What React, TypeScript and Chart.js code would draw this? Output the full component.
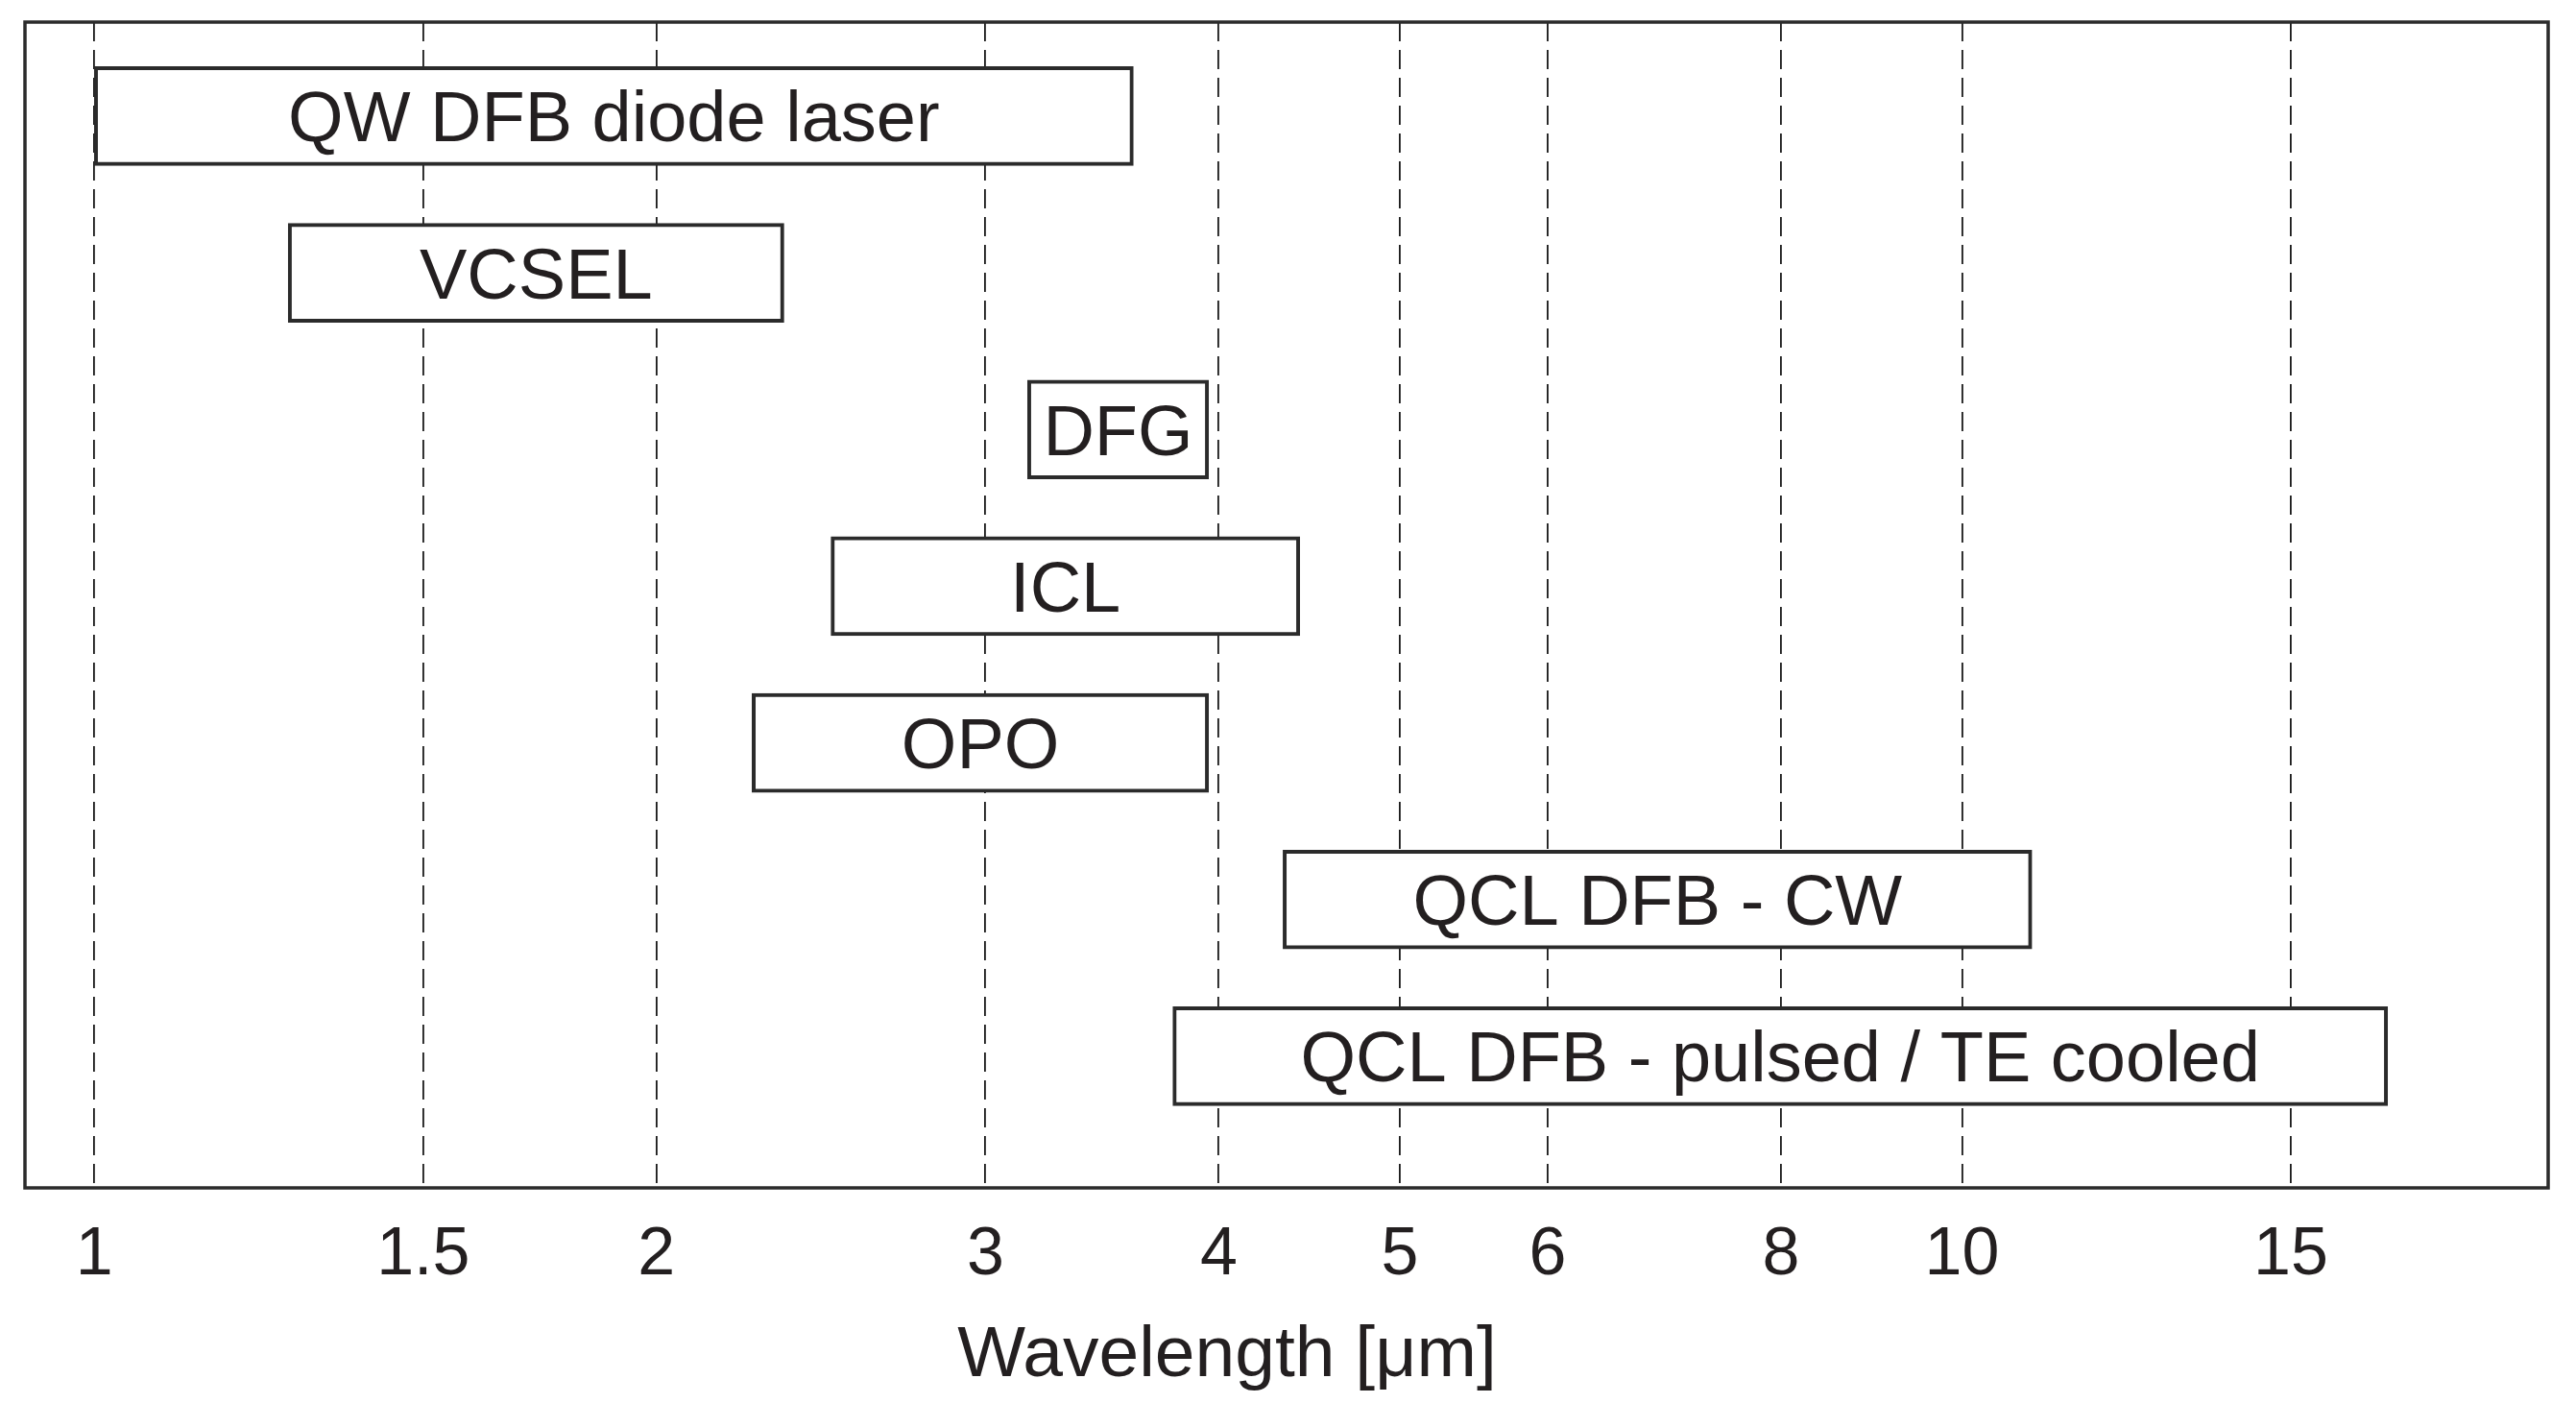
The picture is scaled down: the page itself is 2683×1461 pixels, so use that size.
import React, { useEffect, useRef } from 'react';
import { Chart, registerables } from 'chart.js';

Chart.register(...registerables);

// ---- data ----
const LASER_TYPES = [
  'QW DFB diode laser',
  'VCSEL',
  'DFG',
  'ICL',
  'OPO',
  'QCL DFB - CW',
  'QCL DFB - pulsed / TE cooled',
];
const RANGE_START_UM = [1.0, 1.27, 3.16, 2.48, 2.25, 4.33, 3.78];
const RANGE_END_UM = [3.6, 2.34, 3.95, 4.42, 3.95, 10.9, 16.9];
const X_TICKS_UM = [1, 1.5, 2, 3, 4, 5, 6, 8, 10, 15];
const X_TITLE = 'Wavelength [\u03bcm]';

// ---- styles ----
const FONT = '"Liberation Sans", Arial, Helvetica, sans-serif';
const INK = '#231f20';
const LABEL_SIZE = 74;
const TITLE_SIZE = 75;

const barLabelPlugin = {
  id: 'barLabels',
  afterDatasetsDraw(chart: any) {
    const ctx = chart.ctx;
    const meta = chart.getDatasetMeta(0);
    ctx.save();
    ctx.font = `${LABEL_SIZE}px ${FONT}`;
    ctx.fillStyle = INK;
    ctx.textAlign = 'center';
    ctx.textBaseline = 'alphabetic';
    meta.data.forEach((el: any, i: number) => {
      const { x, base, y } = el.getProps(['x', 'base', 'y'], true);
      ctx.fillText(LASER_TYPES[i], (x + base) / 2, y + LABEL_SIZE * 0.358);
    });
    ctx.restore();
  },
};

const frameAndTitlePlugin = {
  id: 'frameAndTitle',
  afterDraw(chart: any) {
    const { ctx, chartArea } = chart;
    ctx.save();
    ctx.strokeStyle = '#2b2b2b';
    ctx.lineWidth = 3.5;
    ctx.strokeRect(
      chartArea.left,
      chartArea.top,
      chartArea.right - chartArea.left,
      chartArea.bottom - chartArea.top
    );
    // axis title (slightly left of centre, as in the original figure)
    ctx.font = `${TITLE_SIZE}px ${FONT}`;
    ctx.fillStyle = INK;
    ctx.textAlign = 'center';
    ctx.textBaseline = 'alphabetic';
    const cx = chartArea.left + 0.4764 * (chartArea.right - chartArea.left);
    ctx.fillText(X_TITLE, cx, chartArea.bottom + 196);
    ctx.restore();
  },
};

export default function App() {
  const canvasRef = useRef<HTMLCanvasElement | null>(null);

  useEffect(() => {
    if (!canvasRef.current) return;
    const chart = new Chart(canvasRef.current, {
      type: 'bar',
      data: {
        datasets: [
          {
            data: LASER_TYPES.map((_, i) => ({
              x: [RANGE_START_UM[i], RANGE_END_UM[i]],
              y: i,
            })) as any,
            backgroundColor: '#ffffff',
            borderColor: '#2b2b2b',
            borderWidth: 4,
            borderSkipped: false,
            barThickness: 103,
          },
        ],
      },
      options: {
        indexAxis: 'y',
        animation: false,
        responsive: true,
        maintainAspectRatio: false,
        layout: { padding: { left: 18, right: 21, top: 15, bottom: 74 } },
        plugins: {
          legend: { display: false },
          tooltip: { enabled: false },
        },
        scales: {
          x: {
            type: 'logarithmic',
            min: 0.918,
            max: 20.6,
            afterBuildTicks: (scale: any) => {
              scale.ticks = X_TICKS_UM.map((v) => ({ value: v }));
            },
            grid: { color: '#1a1a1a', lineWidth: 1.8, drawTicks: false },
            border: { display: false, dash: [20, 9] },
            ticks: {
              autoSkip: false,
              maxRotation: 0,
              padding: 29,
              color: INK,
              font: { family: FONT, size: 70, lineHeight: 1.2 },
              callback: (v: any) => String(v),
            },
            title: { display: false },
          },
          y: {
            type: 'linear',
            min: -0.6,
            max: 6.84,
            reverse: true,
            offset: false,
            display: false,
          },
        },
      } as any,
      plugins: [barLabelPlugin, frameAndTitlePlugin],
    });
    return () => chart.destroy();
  }, []);

  return (
    <div style={{ position: 'relative', width: '2667px', height: '1445px' }}>
      <canvas ref={canvasRef} />
    </div>
  );
}
